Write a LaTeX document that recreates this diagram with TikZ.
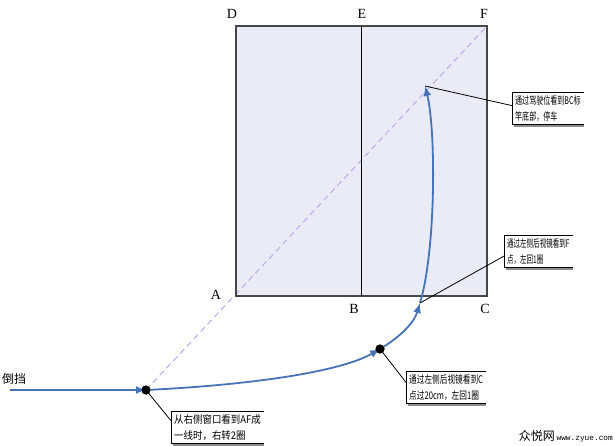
\documentclass[tikz,border=0pt]{standalone}
\usepackage{fontspec}
\setmainfont{Liberation Serif}
\newfontfamily\cjk{Noto Sans CJK SC}
\newfontfamily\cjkwide[FakeStretch=0.9]{Noto Sans CJK SC}
\newfontfamily\cjkmid[FakeStretch=0.73]{Noto Sans CJK SC}
\newfontfamily\cjknar[FakeStretch=0.62]{Noto Sans CJK SC}
\newfontfamily\cjknarr[FakeStretch=0.67]{Noto Sans CJK SC}
\newfontfamily\wmmono{Liberation Mono}
\usetikzlibrary{arrows.meta,calc}
\definecolor{curveblue}{RGB}{70,114,184}
\definecolor{fieldfill}{RGB}{233,236,247}
\definecolor{diagpurple}{RGB}{185,170,232}
\definecolor{framegray}{RGB}{70,70,70}
\begin{document}
\begin{tikzpicture}[x=1pt,y=-1pt,
  lbl/.style={font=\fontsize{14}{14}\selectfont, inner sep=0pt},
  note/.style={anchor=north west, inner xsep=3pt, inner ysep=3pt, align=left},
  route/.style={draw=curveblue, line width=1.8pt, -{Latex[length=10pt,width=8pt]}},
  leader/.style={draw=black, line width=0.8pt},
  frame/.style={draw=black, line width=0.8pt},
  shadow/.style={draw=black!45, line width=2pt},
  dot/.style={circle, fill=black, inner sep=0pt, minimum size=9pt},
  diag/.style={draw=diagpurple, line width=1pt, dash pattern=on 6pt off 4pt}]
\useasboundingbox (0,0) rectangle (615,446);

% field corners
\coordinate (pA) at (236,296);
\coordinate (pB) at (361,296);
\coordinate (pC) at (487,296);
\coordinate (pD) at (236,26);
\coordinate (pE) at (361,26);
\coordinate (pF) at (487,26);

% key points of the route
\coordinate (s0) at (10,390);
\node[dot] (k1) at (146,390) {};
\node[dot] (k2) at (380,349) {};
\coordinate (k3) at (420,303);
\coordinate (k4) at (425,86);

\fill[fieldfill] (pA) rectangle (pF);
\draw[diag] (k1.center) -- (pF);
\draw[draw=framegray, line width=1.5pt] (pA) rectangle (pF);
\draw[black, line width=1pt] (pE) -- (pB);

% labels
\node[lbl] (lD) at (232,14) {D};
\node[lbl] (lE) at (362,14) {E};
\node[lbl] (lF) at (484,14) {F};
\node[lbl] (lA) at (216,295) {A};
\node[lbl] (lB) at (354,309) {B};
\node[lbl] (lC) at (485,309) {C};

\node[anchor=west, inner sep=0pt, font=\cjk\fontsize{12}{12}\selectfont] (rev) at (2,379) {倒挡};

% route
\draw[route] (s0) -- (k1.center);
\draw[route] (k1.center) .. controls (250,385) and (340,372) .. (k2.center);
\draw[route] (k2.center) .. controls (400,337) and (414,323) .. (k3);
\draw[route] (k3) .. controls (436,250) and (436,130) .. (k4);

% notes
\node[note, font=\cjknarr\fontsize{10.5}{16}\selectfont] (n1) at (512,92) {通过驾驶位看到BC标\\竿底部，停车};
\node[note, font=\cjknar\fontsize{10.5}{16}\selectfont] (n2) at (504,235) {通过左侧后视镜看到F\\点，左回1圈};
\node[note, font=\cjkmid\fontsize{10.5}{16}\selectfont] (n3) at (406,371) {通过左侧后视镜看到C\\点过20cm，左回1圈};
\node[note, font=\cjkwide\fontsize{10.5}{16}\selectfont] (n4) at (171,411) {从右侧窗口看到AF成\\一线时，右转2圈};

\foreach \n in {n1,n2,n3,n4}{
  \draw[shadow] ([xshift=2pt,yshift=-1.5pt]\n.south west) -- ([yshift=-1.5pt]\n.south east);
  \draw[frame] (\n.north east) -- (\n.north west) -- (\n.south west) -- (\n.south east);
}

% leaders
\draw[leader] (k4) -- ($(n1.north west)!0.42!(n1.south west)$);
\draw[leader] (k3) -- ($(n2.north west)!0.65!(n2.south west)$);
\draw[leader] (k2.center) -- ($(n3.north west)!0.35!(n3.south west)$);
\draw[leader] (k1.center) -- ($(n4.north west)!0.3!(n4.south west)$);

\node[dot] at (k1) {};
\node[dot] at (k2) {};

% watermark
\node[anchor=east, inner sep=0pt] (wm) at (613,436) {{\cjk\fontsize{12}{12}\selectfont 众悦网}\,{\wmmono\fontsize{7.8}{8}\selectfont www.zyue.com}};
\end{tikzpicture}
\end{document}
